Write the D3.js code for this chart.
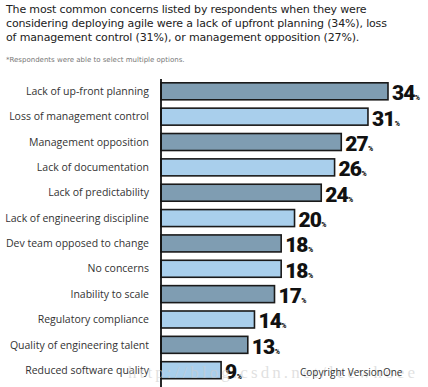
<!DOCTYPE html>
<html>
<head>
<meta charset="utf-8">
<script src="https://cdn.jsdelivr.net/npm/d3@7"></script>
<style>
	html, body { margin: 0; padding: 0; background: #fff; }
	svg { display: block; }
</style>
</head>
<body>
<svg></svg>
<script>
'use strict'

let categories = [
		'Lack of up-front planning', 'Loss of management control', 'Management opposition',
		'Lack of documentation', 'Lack of predictability', 'Lack of engineering discipline',
		'Dev team opposed to change', 'No concerns', 'Inability to scale',
		'Regulatory compliance', 'Quality of engineering talent', 'Reduced software quality' ],
	values = [34, 31, 27, 26, 24, 20, 18, 18, 17, 14, 13, 9],
	title_lines = [
		'The most common concerns listed by respondents when they were',
		'considering deploying agile were a lack of upfront planning (34%), loss',
		'of management control (31%), or management opposition (27%).' ],
	footnote = '*Respondents were able to select multiple options.',
	copyright = 'Copyright VersionOne',
	watermark = 'http://blog.csdn.net/leewhoee'

let W = 428, H = 387,
	x = d3.scaleLinear().domain([0, 34]).range([161, 388]),
	y = d3.scaleBand().domain(categories).range([78.5, 383]).paddingInner(0.33).paddingOuter(0.17),
	colors = ['#7f9db2', '#a9cfec']

let svg = d3.select('svg').attr('width', W).attr('height', H)
	.style('font-family', '"Open Sans", sans-serif')

// title, hand-lettered in the original
svg.append('g').selectAll('text').data(title_lines).join('text')
	.attr('x', 6).attr('y', (d, i) => 13 + i * 14)
	.attr('font-size', 11).attr('fill', '#222')
	.attr('font-family', '"Comic Sans MS", "DejaVu Sans", sans-serif')
	.attr('letter-spacing', -0.15)
	.text(d => d)
svg.append('text').attr('x', 6).attr('y', 62)
	.attr('font-size', 7).attr('fill', '#777')
	.attr('font-family', '"DejaVu Sans", sans-serif')
	.text(footnote)

// bars
svg.append('g').selectAll('rect').data(values).join('rect')
	.attr('x', x(0)).attr('y', (d, i) => y(categories[i]))
	.attr('width', d => x(d) - x(0)).attr('height', y.bandwidth())
	.attr('fill', (d, i) => colors[i % 2])
	.attr('stroke', '#1a1a1a').attr('stroke-width', 1.6)

// category labels
svg.append('g').selectAll('text').data(categories).join('text')
	.attr('x', 149).attr('y', d => y(d) + y.bandwidth() / 2)
	.attr('dy', '0.35em').attr('text-anchor', 'end')
	.attr('font-size', 10.5).attr('fill', '#333')
	.text(d => d)

// value labels
svg.append('g').selectAll('text').data(values).join('text')
	.attr('x', d => x(d) + 4).attr('y', (d, i) => y(categories[i]) + y.bandwidth() + 0.5)
	.attr('font-family', 'Roboto, sans-serif')
	.attr('font-size', 21).attr('font-weight', 900).attr('fill', '#111')
	.attr('letter-spacing', -1)
	.call(s => s.append('tspan').text(d => d))
	.call(s => s.append('tspan').attr('font-size', 7).attr('letter-spacing', 0).attr('dx', 0.5).text('%'))

// axis line
svg.append('line')
	.attr('x1', x(0)).attr('x2', x(0)).attr('y1', 79).attr('y2', H)
	.attr('stroke', '#111').attr('stroke-width', 1.8)

// watermark & copyright
svg.append('text').attr('x', 128).attr('y', 378)
	.attr('font-size', 17).attr('fill', '#ccc').attr('fill-opacity', 0.6)
	.attr('font-family', '"Liberation Serif", serif')
	.attr('textLength', 287)
	.text(watermark)
svg.append('text').attr('x', 300).attr('y', 376)
	.attr('font-size', 10).attr('fill', '#333')
	.text(copyright)
</script>
</body>
</html>
